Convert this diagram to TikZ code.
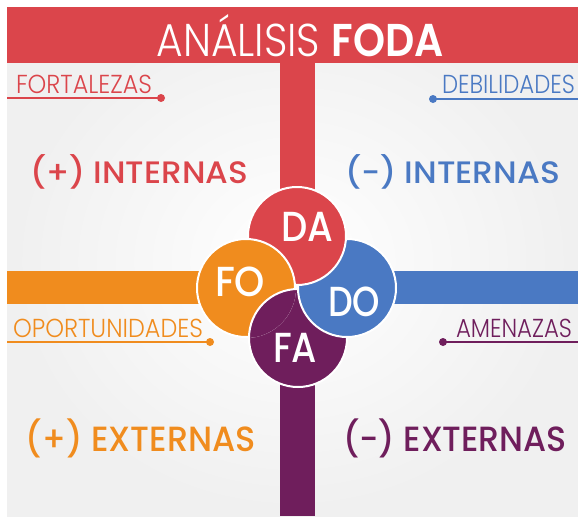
\documentclass[tikz,border=0pt]{standalone}
\usepackage{fontspec}
\usepackage{graphicx}
\setmainfont{Poppins}
\newfontfamily\fina{Poppins}[UprightFont=* Light]
\newfontfamily\media{Poppins}[UprightFont=* Medium]
\usetikzlibrary{positioning}

\definecolor{rojo}{HTML}{DB454B}
\definecolor{azul}{HTML}{4A79C3}
\definecolor{naranja}{HTML}{F08C1E}
\definecolor{morado}{HTML}{6F1E5C}

% ancho fijo, misma altura
\newcommand{\ajustar}[2]{\resizebox{#1}{\height}{#2}}

\begin{document}
\begin{tikzpicture}[x=1pt, y=-1pt, every node/.style={inner sep=0pt, outer sep=0pt}]

        \tikzstyle{circulo}=[circle, draw=white, line width=2pt, minimum size=98pt]
        \tikzstyle{siglas}=[text=white, font=\media\fontsize{42}{42}\selectfont]
        \tikzstyle{rotulo}=[anchor=base west, font=\fina\fontsize{26}{26}\selectfont]
        \tikzstyle{grande}=[anchor=base west, font=\media\fontsize{31}{31}\selectfont]
        \tikzstyle{linea}=[line width=2.2pt]

        \useasboundingbox (0,0) rectangle (578,517);
        \fill[white] (0,0) rectangle (578,517);
        \shade[inner color=white, outer color=gray!12] (7,7) rectangle (578,516);

        % franjas
        \fill[rojo] (7,7) rectangle (578,63);
        \fill[rojo] (280,63) rectangle (315,240);
        \fill[morado] (280,330) rectangle (315,516);
        \fill[naranja] (7,271) rectangle (250,304);
        \fill[azul] (340,271) rectangle (578,304);

        \node[anchor=base, text=white] (titulo) at (300,56)
            {\ajustar{287pt}{\fina\fontsize{46}{46}\selectfont AN\'ALISIS \textbf{FODA}}};

        % rotulos con su linea
        \node[rotulo, text=rojo] (fort) at (16,93) {\ajustar{136pt}{FORTALEZAS}};
        \node[rotulo, text=azul] (debi) at (442,93) {\ajustar{133pt}{DEBILIDADES}};
        \node[rotulo, text=naranja] (opor) at (13,337) {\ajustar{190pt}{OPORTUNIDADES}};
        \node[rotulo, text=morado] (amen) at (456,337) {\ajustar{116pt}{AMENAZAS}};

        \coordinate (pfort) at (161,98);
        \coordinate (pdebi) at (433,99);
        \coordinate (popor) at (210,342);
        \coordinate (pamen) at (443,342);
        \draw[linea, rojo] (pfort) -- (7,98);
        \draw[linea, azul] (pdebi) -- (578,99);
        \draw[linea, naranja] (popor) -- (7,342);
        \draw[linea, morado] (pamen) -- (578,342);
        \fill[rojo] (pfort) circle (4);
        \fill[azul] (pdebi) circle (4);
        \fill[naranja] (popor) circle (4);
        \fill[morado] (pamen) circle (4);

        \node[grande, text=rojo] (intp) at (30,183) {\ajustar{218pt}{(+) INTERNAS}};
        \node[grande, text=azul] (intn) at (345,183) {\ajustar{215pt}{(-) INTERNAS}};
        \node[grande, text=naranja, font=\media\fontsize{35}{35}\selectfont] (extp) at (26,451) {\ajustar{230pt}{(+) EXTERNAS}};
        \node[grande, text=morado, font=\media\fontsize{35}{35}\selectfont] (extn) at (343,451) {\ajustar{224pt}{(-) EXTERNAS}};

        % circulos en molinete
        \node[circulo, fill=morado] (fa) at (298,338) {};
        \node[circulo, fill=azul] (do) at (347,288) {};
        \node[circulo, fill=rojo] (da) at (297,236) {};
        \node[circulo, fill=naranja] (fo) at (246,288) {};
        \begin{scope}
            \clip (fo.center) circle (50);
            \node[circulo, fill=morado] at (fa.center) {};
        \end{scope}

        \node[siglas] at ([shift={(10,-9)}]da.center) {\ajustar{52pt}{DA}};
        \node[siglas] at ([shift={(-6,-6)}]fo.center) {\ajustar{50pt}{FO}};
        \node[siglas] at ([shift={(7,14)}]do.center) {\ajustar{52pt}{DO}};
        \node[siglas] at ([shift={(-3,10)}]fa.center) {\ajustar{44pt}{FA}};

    \end{tikzpicture}
\end{document}
